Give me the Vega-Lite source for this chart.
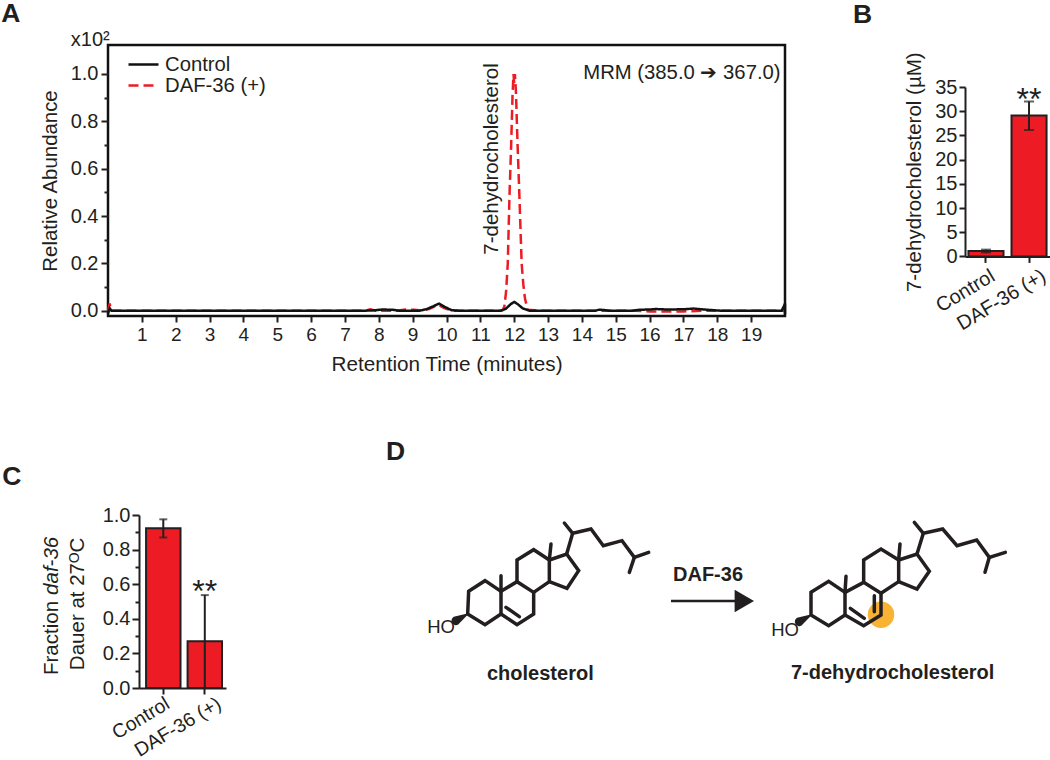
{
"$schema":"https://vega.github.io/schema/vega-lite/v6.json",
"background":"white",
"padding":{"left":0,"top":0,"right":0,"bottom":4},
"bounds":"flush",
"spacing":470,
"config":{"font":"Liberation Sans","view":{"stroke":null},
 "axis":{"labelFont":"Liberation Sans","titleFont":"Liberation Sans","labelColor":"#231F20","titleColor":"#231F20","domainColor":"#231F20","tickColor":"#231F20","domainWidth":2,"tickWidth":2,"grid":false,"labelFontSize":20,"titleFontSize":20,"titleFontWeight":"normal"},
 "text":{"color":"#231F20"}},
"vconcat":[
{"bounds":"flush","spacing":180,"hconcat":[
 {"width":677,"height":271,"view":{"stroke":"#111111","strokeWidth":2.5},
  "layer":[
  {"data":{"values":[
{"s":"DAF-36 (+)","t":0,"v":0},{"s":"DAF-36 (+)","t":0.05,"v":0.03},{"s":"DAF-36 (+)","t":0.09,"v":0},{"s":"DAF-36 (+)","t":7.6,"v":0},{"s":"DAF-36 (+)","t":7.75,"v":0.006},{"s":"DAF-36 (+)","t":7.9,"v":0},{"s":"DAF-36 (+)","t":8.5,"v":0},{"s":"DAF-36 (+)","t":8.8,"v":0.005},{"s":"DAF-36 (+)","t":9.05,"v":0.004},{"s":"DAF-36 (+)","t":9.3,"v":0},{"s":"DAF-36 (+)","t":9.5,"v":0.008},{"s":"DAF-36 (+)","t":9.75,"v":0.025},{"s":"DAF-36 (+)","t":9.95,"v":0.01},{"s":"DAF-36 (+)","t":10.2,"v":0},{"s":"DAF-36 (+)","t":11.6,"v":0},{"s":"DAF-36 (+)","t":11.66,"v":0.002},{"s":"DAF-36 (+)","t":11.71,"v":0.018},{"s":"DAF-36 (+)","t":11.76,"v":0.08},{"s":"DAF-36 (+)","t":11.81,"v":0.2},{"s":"DAF-36 (+)","t":11.86,"v":0.483},{"s":"DAF-36 (+)","t":11.91,"v":0.7},{"s":"DAF-36 (+)","t":11.95,"v":0.905},{"s":"DAF-36 (+)","t":11.98,"v":1.0},{"s":"DAF-36 (+)","t":12.0,"v":0.96},{"s":"DAF-36 (+)","t":12.02,"v":1.0},{"s":"DAF-36 (+)","t":12.05,"v":0.93},{"s":"DAF-36 (+)","t":12.1,"v":0.7},{"s":"DAF-36 (+)","t":12.15,"v":0.5},{"s":"DAF-36 (+)","t":12.22,"v":0.2},{"s":"DAF-36 (+)","t":12.27,"v":0.11},{"s":"DAF-36 (+)","t":12.32,"v":0.05},{"s":"DAF-36 (+)","t":12.4,"v":0.004},{"s":"DAF-36 (+)","t":12.6,"v":0.002},{"s":"DAF-36 (+)","t":12.8,"v":0},{"s":"DAF-36 (+)","t":15.6,"v":0},{"s":"DAF-36 (+)","t":16,"v":-0.003},{"s":"DAF-36 (+)","t":17,"v":-0.003},{"s":"DAF-36 (+)","t":17.6,"v":0},{"s":"DAF-36 (+)","t":20,"v":0},
{"s":"Control","t":0,"v":-0.012},{"s":"Control","t":0.05,"v":0.01},{"s":"Control","t":0.1,"v":0},{"s":"Control","t":7.6,"v":0},{"s":"Control","t":7.9,"v":0.002},{"s":"Control","t":8.1,"v":0.005},{"s":"Control","t":8.4,"v":0.004},{"s":"Control","t":8.6,"v":0},{"s":"Control","t":9.2,"v":0},{"s":"Control","t":9.4,"v":0.006},{"s":"Control","t":9.6,"v":0.018},{"s":"Control","t":9.78,"v":0.03},{"s":"Control","t":9.95,"v":0.016},{"s":"Control","t":10.15,"v":0.002},{"s":"Control","t":10.4,"v":0},{"s":"Control","t":11.6,"v":0},{"s":"Control","t":11.75,"v":0.008},{"s":"Control","t":11.9,"v":0.028},{"s":"Control","t":12.0,"v":0.037},{"s":"Control","t":12.1,"v":0.028},{"s":"Control","t":12.25,"v":0.01},{"s":"Control","t":12.45,"v":0},{"s":"Control","t":14.4,"v":0},{"s":"Control","t":14.5,"v":0.004},{"s":"Control","t":14.65,"v":0.003},{"s":"Control","t":14.8,"v":0},{"s":"Control","t":15.5,"v":0},{"s":"Control","t":15.7,"v":0.004},{"s":"Control","t":16,"v":0.005},{"s":"Control","t":16.2,"v":0.007},{"s":"Control","t":16.5,"v":0.005},{"s":"Control","t":17,"v":0.006},{"s":"Control","t":17.3,"v":0.009},{"s":"Control","t":17.6,"v":0.005},{"s":"Control","t":17.9,"v":0.002},{"s":"Control","t":18.1,"v":0},{"s":"Control","t":19.9,"v":0},{"s":"Control","t":19.97,"v":0.02},{"s":"Control","t":20,"v":0.03},{"s":"Control","t":20,"v":-0.015}
  ]},
  "mark":{"type":"line","strokeWidth":2.5,"clip":false},
  "encoding":{
   "x":{"field":"t","type":"quantitative","scale":{"domain":[0,20],"nice":false,"zero":false},
    "axis":{"values":[1,2,3,4,5,6,7,8,9,10,11,12,13,14,15,16,17,18,19],"tickCount":100,"format":"d","labelOverlap":false,"title":"Retention Time (minutes)","domain":false,"tickSize":6,"labelFontSize":19,"labelPadding":3,"titlePadding":10,"titleFontSize":20.7}},
   "y":{"field":"v","type":"quantitative","scale":{"domain":[-0.0224,1.1225],"nice":false,"zero":false},
    "axis":{"values":[0,0.1,0.2,0.3,0.4,0.5,0.6,0.7,0.8,0.9,1.0],"tickCount":100,"labelOverlap":false,"title":"Relative Abundance","domain":false,"tickSize":{"condition":{"test":"abs(datum.value*5-round(datum.value*5))>0.01","value":4},"value":7},"labelExpr":"abs(datum.value*5-round(datum.value*5))>0.01 ? '' : format(datum.value,'.1f')","labelPadding":3,"titlePadding":10,"titleFontSize":20.4}},
   "color":{"field":"s","type":"nominal","scale":{"domain":["Control","DAF-36 (+)"],"range":["#111111","#ED1C24"]},
    "legend":{"orient":"none","legendX":19,"legendY":9,"title":null,"symbolType":"stroke","symbolSize":900,"symbolStrokeWidth":2.5,"clipHeight":21,"rowPadding":0,"labelFontSize":20.3,"labelColor":"#231F20","labelFont":"Liberation Sans","labelOffset":5}},
   "strokeDash":{"field":"s","type":"nominal","scale":{"domain":["Control","DAF-36 (+)"],"range":[[1,0],[10,5]]}},
   "order":{"field":"s","type":"nominal","sort":"descending"}
  }},
  {"data":{"values":[{"t":11.34,"v":0.641,"label":"7-dehydrocholesterol"}]},
   "mark":{"type":"text","angle":-90,"fontSize":20.5,"align":"center","baseline":"middle"},
   "encoding":{"x":{"field":"t","type":"quantitative"},"y":{"field":"v","type":"quantitative"},"text":{"field":"label"}}},
  {"data":{"values":[{"t":19.87,"v":1.004,"label":"MRM (385.0 ➔ 367.0)"}]},
   "mark":{"type":"text","fontSize":20.3,"align":"right","baseline":"middle"},
   "encoding":{"x":{"field":"t","type":"quantitative"},"y":{"field":"v","type":"quantitative"},"text":{"field":"label"}}},
  {"data":{"values":[{"t":-1.1,"v":1.12,"label":"x10²"}]},
   "mark":{"type":"text","fontSize":20,"align":"left","baseline":"alphabetic"},
   "encoding":{"x":{"field":"t","type":"quantitative"},"y":{"field":"v","type":"quantitative"},"text":{"field":"label"}}},
  {"data":{"values":[{"t":-3.15,"v":1.2176,"label":"A"}]},
   "mark":{"type":"text","fontSize":26.5,"fontWeight":"bold","align":"left","baseline":"alphabetic"},
   "encoding":{"x":{"field":"t","type":"quantitative"},"y":{"field":"v","type":"quantitative"},"text":{"field":"label"}}}
  ]},
 {"bounds":"flush","spacing":20,"vconcat":[
  {"width":85,"height":22,
   "data":{"values":[{"px":853,"py":23.5,"label":"B"}]},
   "mark":{"type":"text","fontSize":26.5,"fontWeight":"bold","align":"left","baseline":"alphabetic"},
   "encoding":{"x":{"field":"px","type":"quantitative","scale":{"domain":[965,1050],"nice":false,"zero":false},"axis":null},
    "y":{"field":"py","type":"quantitative","scale":{"domain":[46,68],"reverse":true,"nice":false,"zero":false},"axis":null},
    "text":{"field":"label"}}},
  {"width":85,"height":169.4,
   "data":{"values":[{"g":"Control","m":1.1,"lo":0.8,"hi":1.4},{"g":"DAF-36 (+)","m":29.1,"lo":26.1,"hi":32,"star":"**","sy":32.4}]},
   "encoding":{"x":{"field":"g","type":"nominal","scale":{"paddingInner":0.186,"paddingOuter":0.08},"axis":{"title":null,"labelAngle":-31,"labelAlign":"right","labelBaseline":"top","tickSize":6,"labelPadding":3,"labelFontSize":20,"labelOffset":{"condition":{"test":"datum.value=='DAF-36 (+)'","value":10},"value":2}}}},
   "layer":[
    {"mark":{"type":"bar","color":"#ED1C24","stroke":"#231F20","strokeWidth":2},
     "encoding":{"y":{"field":"m","type":"quantitative","scale":{"domain":[0,35],"nice":false},"axis":{"values":[0,5,10,15,20,25,30,35],"tickCount":100,"format":"d","labelOverlap":false,"title":"7-dehydrocholesterol (µM)","tickSize":6,"labelPadding":2,"titlePadding":10,"titleFontSize":20.5}}}},
    {"mark":{"type":"rule","color":"#231F20","strokeWidth":2},"encoding":{"y":{"field":"lo","type":"quantitative"},"y2":{"field":"hi"}}},
    {"mark":{"type":"tick","color":"#231F20","size":10,"thickness":2},"encoding":{"y":{"field":"lo","type":"quantitative"}}},
    {"mark":{"type":"tick","color":"#231F20","size":10,"thickness":2},"encoding":{"y":{"field":"hi","type":"quantitative"}}},
    {"transform":[{"filter":"datum.star"}],"mark":{"type":"text","fontSize":32,"baseline":"middle"},"encoding":{"y":{"field":"sy","type":"quantitative"},"text":{"field":"star"}}}
   ]}
 ]}
]},
{"bounds":"flush","spacing":0,"hconcat":[
 {"width":31,"height":10,"data":{"values":[]},"mark":{"type":"point"},"encoding":{}},
 {"width":87,"height":173,
  "resolve":{"scale":{"x":"independent"}},
  "layer":[
   {"data":{"values":[{"g":"Control","m":0.923,"lo":0.87,"hi":0.975},{"g":"DAF-36 (+)","m":0.27,"lo":0,"hi":0.537,"star":"**","sy":0.555}]},
    "encoding":{"x":{"field":"g","type":"nominal","scale":{"paddingInner":0.17,"paddingOuter":0.133,"align":0.64},"axis":{"title":null,"labelAngle":-31,"labelAlign":"right","labelBaseline":"top","tickSize":6,"labelPadding":0,"labelFontSize":19.5,"labelOffset":{"condition":{"test":"datum.value=='DAF-36 (+)'","value":10},"value":0}}}},
    "layer":[
     {"mark":{"type":"bar","color":"#ED1C24","stroke":"#231F20","strokeWidth":2},
      "encoding":{"y":{"field":"m","type":"quantitative","scale":{"domain":[0,1],"nice":false},"axis":{"values":[0,0.1,0.2,0.3,0.4,0.5,0.6,0.7,0.8,0.9,1.0],"tickCount":100,"labelOverlap":false,"title":null,"tickSize":{"condition":{"test":"abs(datum.value*5-round(datum.value*5))>0.01","value":4},"value":7},"labelExpr":"abs(datum.value*5-round(datum.value*5))>0.01 ? '' : format(datum.value,'.1f')","labelPadding":2}}}},
     {"mark":{"type":"rule","color":"#231F20","strokeWidth":2},"encoding":{"y":{"field":"lo","type":"quantitative"},"y2":{"field":"hi"}}},
     {"mark":{"type":"tick","color":"#231F20","size":8,"thickness":2},"encoding":{"y":{"field":"lo","type":"quantitative"}}},
     {"mark":{"type":"tick","color":"#231F20","size":8,"thickness":2},"encoding":{"y":{"field":"hi","type":"quantitative"}}},
     {"transform":[{"filter":"datum.star"}],"mark":{"type":"text","fontSize":32,"baseline":"middle"},"encoding":{"y":{"field":"sy","type":"quantitative"},"text":{"field":"star"}}}
    ]},
   {"data":{"values":[{"px":2,"py":1.172,"label":"C"}]},
    "mark":{"type":"text","fontSize":26.5,"fontWeight":"bold","align":"left","baseline":"alphabetic"},
    "encoding":{"x":{"field":"px","type":"quantitative","scale":{"domain":[138.7,225.7],"nice":false,"zero":false},"axis":null},"y":{"field":"py","type":"quantitative"},"text":{"field":"label"}}},
   {"data":{"values":[{"px":52,"py":0.075,"label":"Fraction "}]},
    "mark":{"type":"text","fontSize":20.5,"angle":-90,"align":"left","baseline":"middle"},
    "encoding":{"x":{"field":"px","type":"quantitative","scale":{"domain":[138.7,225.7],"nice":false,"zero":false},"axis":null},"y":{"field":"py","type":"quantitative"},"text":{"field":"label"}}},
   {"data":{"values":[{"px":52,"py":0.538,"label":"daf-36"}]},
    "mark":{"type":"text","fontSize":20.5,"fontStyle":"italic","angle":-90,"align":"left","baseline":"middle"},
    "encoding":{"x":{"field":"px","type":"quantitative","scale":{"domain":[138.7,225.7],"nice":false,"zero":false},"axis":null},"y":{"field":"py","type":"quantitative"},"text":{"field":"label"}}},
   {"data":{"values":[{"px":78,"py":0.486,"label":"Dauer at 27ᴼC"}]},
    "mark":{"type":"text","fontSize":20.5,"angle":-90,"align":"center","baseline":"middle"},
    "encoding":{"x":{"field":"px","type":"quantitative","scale":{"domain":[138.7,225.7],"nice":false,"zero":false},"axis":null},"y":{"field":"py","type":"quantitative"},"text":{"field":"label"}}}
  ]},
 {"width":174.6,"height":10,"data":{"values":[]},"mark":{"type":"point"},"encoding":{}},
 {"width":640,"height":173,
  "encoding":{
   "x":{"field":"x","type":"quantitative","scale":{"domain":[0,1920],"nice":false,"zero":false},"axis":null},
   "y":{"field":"y","type":"quantitative","scale":{"domain":[48,567],"reverse":true,"nice":false,"zero":false},"axis":null}},
  "layer":[
   {"data":{"values":[{"x":1440,"y":347}]},"mark":{"type":"circle","size":700,"color":"#F9B233","opacity":1},"encoding":{}},
   {"data":{"values":[
{"s":"ca","i":0,"x":200,"y":345},{"s":"ca","i":1,"x":203,"y":277},{"s":"ca","i":2,"x":252,"y":245},{"s":"ca","i":3,"x":300,"y":277},{"s":"ca","i":4,"x":300,"y":345},{"s":"ca","i":5,"x":252,"y":377},{"s":"ca","i":6,"x":200,"y":345},
{"s":"cb","i":0,"x":300,"y":277},{"s":"cb","i":1,"x":348,"y":248},{"s":"cb","i":2,"x":398,"y":280},{"s":"cb","i":3,"x":398,"y":345},{"s":"cb","i":4,"x":348,"y":377},{"s":"cb","i":5,"x":300,"y":345},
{"s":"cbi","i":0,"x":315,"y":325},{"s":"cbi","i":1,"x":355,"y":353},
{"s":"cc","i":0,"x":348,"y":248},{"s":"cc","i":1,"x":348,"y":183},{"s":"cc","i":2,"x":398,"y":152},{"s":"cc","i":3,"x":445,"y":183},{"s":"cc","i":4,"x":445,"y":248},{"s":"cc","i":5,"x":398,"y":280},
{"s":"cd","i":0,"x":445,"y":183},{"s":"cd","i":1,"x":497,"y":165},{"s":"cd","i":2,"x":533,"y":215},{"s":"cd","i":3,"x":498,"y":268},{"s":"cd","i":4,"x":445,"y":248},
{"s":"cm1","i":0,"x":300,"y":277},{"s":"cm1","i":1,"x":300,"y":230},
{"s":"cm2","i":0,"x":445,"y":183},{"s":"cm2","i":1,"x":450,"y":135},
{"s":"cs1","i":0,"x":497,"y":165},{"s":"cs1","i":1,"x":515,"y":103},{"s":"cs1","i":2,"x":570,"y":90},{"s":"cs1","i":3,"x":607,"y":140},{"s":"cs1","i":4,"x":663,"y":125},{"s":"cs1","i":5,"x":700,"y":175},{"s":"cs1","i":6,"x":743,"y":160},
{"s":"cs2","i":0,"x":515,"y":103},{"s":"cs2","i":1,"x":490,"y":72},
{"s":"cs3","i":0,"x":700,"y":175},{"s":"cs3","i":1,"x":685,"y":220},
{"s":"da","i":0,"x":1230,"y":348},{"s":"da","i":1,"x":1230,"y":280},{"s":"da","i":2,"x":1283,"y":247},{"s":"da","i":3,"x":1332,"y":280},{"s":"da","i":4,"x":1332,"y":348},{"s":"da","i":5,"x":1283,"y":380},{"s":"da","i":6,"x":1230,"y":348},
{"s":"db","i":0,"x":1332,"y":280},{"s":"db","i":1,"x":1388,"y":250},{"s":"db","i":2,"x":1440,"y":283},{"s":"db","i":3,"x":1440,"y":348},{"s":"db","i":4,"x":1388,"y":380},{"s":"db","i":5,"x":1332,"y":348},
{"s":"dbi1","i":0,"x":1348,"y":328},{"s":"dbi1","i":1,"x":1390,"y":358},
{"s":"dbi2","i":0,"x":1420,"y":290},{"s":"dbi2","i":1,"x":1420,"y":338},
{"s":"dc","i":0,"x":1388,"y":250},{"s":"dc","i":1,"x":1388,"y":183},{"s":"dc","i":2,"x":1440,"y":150},{"s":"dc","i":3,"x":1493,"y":183},{"s":"dc","i":4,"x":1493,"y":248},{"s":"dc","i":5,"x":1440,"y":283},
{"s":"dd","i":0,"x":1493,"y":183},{"s":"dd","i":1,"x":1548,"y":165},{"s":"dd","i":2,"x":1585,"y":217},{"s":"dd","i":3,"x":1548,"y":270},{"s":"dd","i":4,"x":1493,"y":248},
{"s":"dm1","i":0,"x":1332,"y":280},{"s":"dm1","i":1,"x":1335,"y":232},
{"s":"dm2","i":0,"x":1493,"y":183},{"s":"dm2","i":1,"x":1497,"y":135},
{"s":"ds1","i":0,"x":1548,"y":165},{"s":"ds1","i":1,"x":1567,"y":103},{"s":"ds1","i":2,"x":1625,"y":90},{"s":"ds1","i":3,"x":1668,"y":140},{"s":"ds1","i":4,"x":1727,"y":123},{"s":"ds1","i":5,"x":1765,"y":175},{"s":"ds1","i":6,"x":1813,"y":160},
{"s":"ds2","i":0,"x":1567,"y":103},{"s":"ds2","i":1,"x":1540,"y":70},
{"s":"ds3","i":0,"x":1765,"y":175},{"s":"ds3","i":1,"x":1752,"y":220}
    ]},
    "mark":{"type":"line","color":"#231F20","strokeWidth":3.5,"strokeCap":"round","strokeJoin":"miter"},
    "encoding":{"detail":{"field":"s"},"order":{"field":"i","type":"ordinal"}}},
   {"data":{"values":[{"s":"c","i":0,"x":200,"y":345},{"s":"c","i":1,"x":165,"y":365},{"s":"d","i":0,"x":1230,"y":348},{"s":"d","i":1,"x":1195,"y":368}]},
    "mark":{"type":"trail","color":"#231F20"},
    "encoding":{"detail":{"field":"s"},"order":{"field":"i","type":"ordinal"},"size":{"field":"i","type":"quantitative","scale":{"domain":[0,1],"range":[1,9]},"legend":null}}},
   {"data":{"values":[{"s":"arrow","x":810,"y":306},{"s":"arrow","x":1005,"y":306}]},
    "mark":{"type":"line","color":"#231F20","strokeWidth":2.5},"encoding":{}},
   {"data":{"values":[{"x":1030,"y":306}]},"mark":{"type":"point","shape":"triangle-right","filled":true,"color":"#231F20","opacity":1,"size":500},"encoding":{}},
   {"data":{"values":[{"x":418,"y":525,"label":"cholesterol"},{"x":1475,"y":523,"label":"7-dehydrocholesterol"},{"x":921,"y":228,"label":"DAF-36"}]},
    "mark":{"type":"text","fontSize":20,"fontWeight":"bold","baseline":"middle"},"encoding":{"text":{"field":"label"}}},
   {"data":{"values":[{"x":120,"y":385,"label":"HO"},{"x":1152,"y":393,"label":"HO"}]},
    "mark":{"type":"text","fontSize":18.5,"baseline":"middle"},"encoding":{"text":{"field":"label"}}},
   {"data":{"values":[{"x":-45,"y":-117,"label":"D"}]},
    "mark":{"type":"text","fontSize":26.5,"fontWeight":"bold","align":"left","baseline":"alphabetic"},"encoding":{"text":{"field":"label"}}}
  ]}
]}
]}
